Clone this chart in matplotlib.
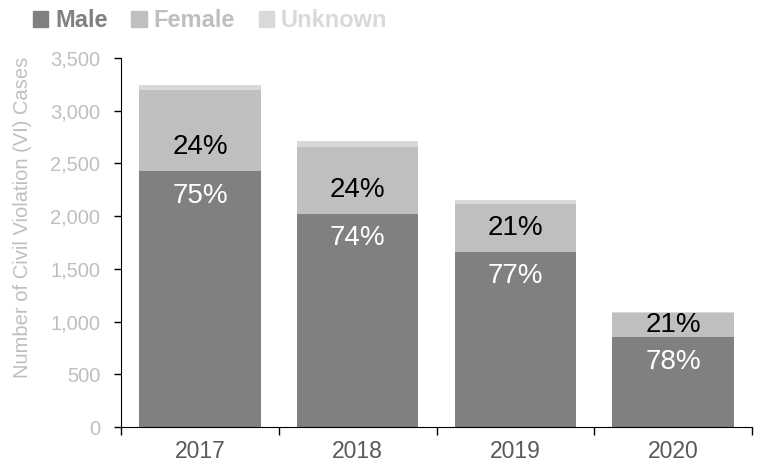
import matplotlib.pyplot as plt
from matplotlib.patches import Patch

plt.rcParams['font.family'] = ['Liberation Sans', 'DejaVu Sans']

years = ["2017", "2018", "2019", "2020"]
male = [2425, 2021, 1663, 850]
female = [770, 639, 453, 230]
unknown = [45, 53, 38, 10]

male_color = "#808080"
female_color = "#bfbfbf"
unknown_color = "#d9d9d9"

fig = plt.figure(figsize=(7.62, 4.71), dpi=100)
ax = fig.add_axes([0.159, 0.0934, 0.828, 0.7836])

x = list(range(len(years)))
width = 0.77
female_bottom = male
unknown_bottom = [m + f for m, f in zip(male, female)]

ax.bar(x, male, width, color=male_color)
ax.bar(x, female, width, bottom=female_bottom, color=female_color)
ax.bar(x, unknown, width, bottom=unknown_bottom, color=unknown_color)

# percentage labels around the male / female boundary
for i in x:
    total = male[i] + female[i] + unknown[i]
    mp = round(100 * male[i] / total)
    fp = round(100 * female[i] / total)
    ax.text(i, male[i] - 230, f"{mp}%", ha="center", va="center",
            fontsize=20, color="white")
    fy = min(male[i] + 230, male[i] + female[i] / 2)
    ax.text(i, fy, f"{fp}%", ha="center", va="center",
            fontsize=20, color="black")

ax.set_xlim(-0.5, len(years) - 0.5)
ax.set_ylim(0, 3500)
ax.set_yticks(range(0, 3501, 500))
ax.set_yticklabels([f"{v:,}" for v in range(0, 3501, 500)])
ax.tick_params(axis="y", labelsize=14.5, labelcolor="#bfbfbf", color="black",
               direction="out", length=5, width=1, pad=10)

# x ticks at category boundaries, labels in the middle
ax.set_xticks([i - 0.5 for i in range(len(years) + 1)])
ax.set_xticklabels([])
ax.set_xticks(x, minor=True)
ax.set_xticklabels(years, minor=True)
ax.tick_params(axis="x", which="major", direction="out", length=6, width=1,
               color="black")
ax.tick_params(axis="x", which="minor", length=0, labelsize=16.5,
               labelcolor="#595959", pad=9)

for side in ["top", "right"]:
    ax.spines[side].set_visible(False)
ax.spines["left"].set_color("black")
ax.spines["bottom"].set_color("black")

ax.set_ylabel("Number of Civil Violation (VI) Cases", fontsize=14.5,
              color="#bfbfbf")
ax.yaxis.set_label_coords(-0.142, 0.568)

handles = [Patch(color=male_color), Patch(color=female_color),
           Patch(color=unknown_color)]
leg = fig.legend(handles, ["Male", "Female", "Unknown"], loc="upper left",
                 bbox_to_anchor=(0.015, 1.025), ncol=3, frameon=False,
                 handlelength=0.65, handleheight=0.65, handletextpad=0.3,
                 columnspacing=1.0, prop={"size": 17, "weight": "bold"})
for t, c in zip(leg.get_texts(), [male_color, female_color, unknown_color]):
    t.set_color(c)

fig.savefig("out.png", dpi=100)
